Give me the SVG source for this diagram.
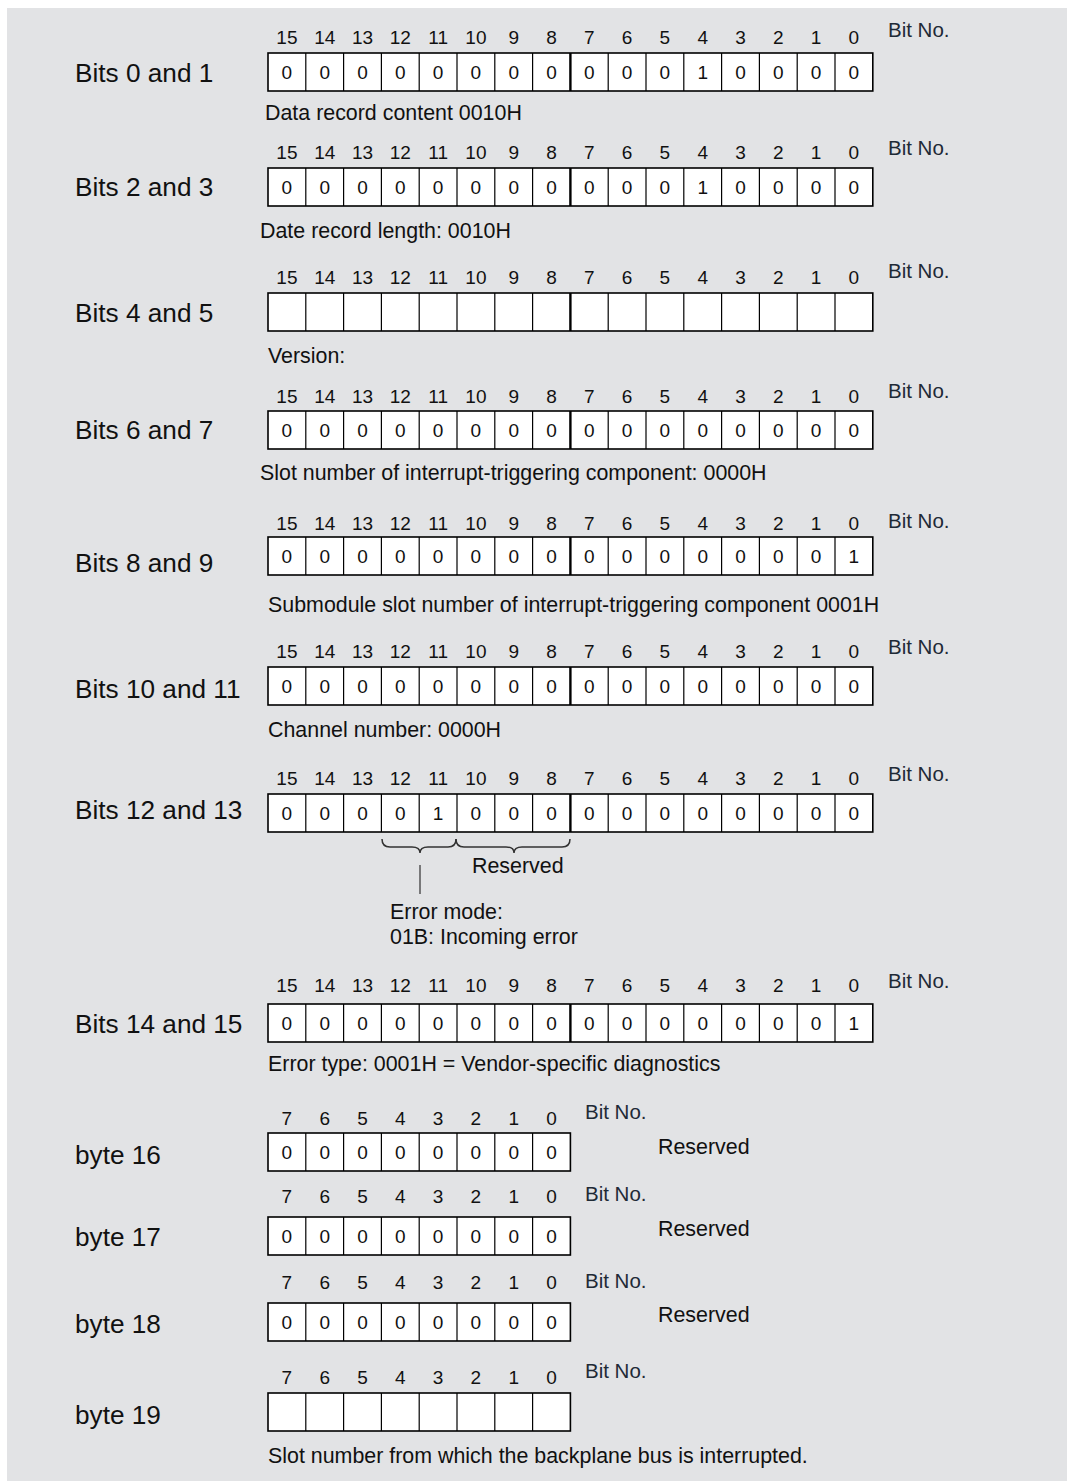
<svg xmlns="http://www.w3.org/2000/svg" xmlns:xlink="http://www.w3.org/1999/xlink" width="1067" height="1481" viewBox="0 0 1067 1481">
<style>
.lbl{font-family:"Liberation Sans",Arial,sans-serif;font-size:26.2px;fill:#111}
.num{font-family:"Liberation Sans",Arial,sans-serif;font-size:19px;fill:#111;text-anchor:middle}
.val{font-family:"Liberation Sans",Arial,sans-serif;font-size:19px;fill:#111;text-anchor:middle}
.bitno{font-family:"Liberation Sans",Arial,sans-serif;font-size:20.5px;fill:#1e2a36}
.cap{font-family:"Liberation Sans",Arial,sans-serif;font-size:21.4px;fill:#111}
.box{fill:#fff;stroke:#000;stroke-width:1.6}
.div{stroke:#000;stroke-width:1.2}
.mid{stroke:#000;stroke-width:2.4}
.brace{fill:none;stroke:#333;stroke-width:1.5}
</style>
<defs>
<g id="grid16">
<rect class="box" x="0" y="0" width="604.8" height="38"/>
<path class="div" d="M37.8,0V38M75.6,0V38M113.4,0V38M151.2,0V38M189,0V38M226.8,0V38M264.6,0V38M340.2,0V38M378,0V38M415.8,0V38M453.6,0V38M491.4,0V38M529.2,0V38M567,0V38"/>
<path class="mid" d="M302.4,0V38"/>
</g>
<g id="grid8">
<rect class="box" x="0" y="0" width="302.4" height="38"/>
<path class="div" d="M37.8,0V38M75.6,0V38M113.4,0V38M151.2,0V38M189,0V38M226.8,0V38M264.6,0V38"/>
</g>
<g id="nums16">
<text class="num" x="18.9">15</text><text class="num" x="56.7">14</text><text class="num" x="94.5">13</text><text class="num" x="132.3">12</text><text class="num" x="170.1">11</text><text class="num" x="207.9">10</text><text class="num" x="245.7">9</text><text class="num" x="283.5">8</text><text class="num" x="321.3">7</text><text class="num" x="359.1">6</text><text class="num" x="396.9">5</text><text class="num" x="434.7">4</text><text class="num" x="472.5">3</text><text class="num" x="510.3">2</text><text class="num" x="548.1">1</text><text class="num" x="585.9">0</text>
</g>
<g id="nums8">
<text class="num" x="18.9">7</text><text class="num" x="56.7">6</text><text class="num" x="94.5">5</text><text class="num" x="132.3">4</text><text class="num" x="170.1">3</text><text class="num" x="207.9">2</text><text class="num" x="245.7">1</text><text class="num" x="283.5">0</text>
</g>
<g id="zeros8">
<text class="val" x="18.9">0</text><text class="val" x="56.7">0</text><text class="val" x="94.5">0</text><text class="val" x="132.3">0</text><text class="val" x="170.1">0</text><text class="val" x="207.9">0</text><text class="val" x="245.7">0</text><text class="val" x="283.5">0</text>
</g>
<g id="zeros16">
<use xlink:href="#zeros8" href="#zeros8"/>
<use xlink:href="#zeros8" href="#zeros8" x="302.4"/>
</g>
<g id="v11">
<use xlink:href="#zeros8" href="#zeros8"/>
<text class="val" x="321.3">0</text><text class="val" x="359.1">0</text><text class="val" x="396.9">0</text><text class="val" x="434.7">1</text><text class="val" x="472.5">0</text><text class="val" x="510.3">0</text><text class="val" x="548.1">0</text><text class="val" x="585.9">0</text>
</g>
<g id="vlast1">
<use xlink:href="#zeros8" href="#zeros8"/>
<text class="val" x="321.3">0</text><text class="val" x="359.1">0</text><text class="val" x="396.9">0</text><text class="val" x="434.7">0</text><text class="val" x="472.5">0</text><text class="val" x="510.3">0</text><text class="val" x="548.1">0</text><text class="val" x="585.9">1</text>
</g>
</defs>
<rect x="0" y="0" width="1067" height="1481" fill="#fff"/>
<rect x="7" y="8" width="1060" height="1473" fill="#e2e3e5"/>

<g id="bits-0-1">
<text class="lbl" x="75" y="82">Bits 0 and 1</text>
<use href="#nums16" x="268" y="44"/>
<text class="bitno" x="888" y="37">Bit No.</text>
<use href="#grid16" x="268" y="53"/>
<use href="#v11" x="268" y="79"/>
<text class="cap" x="265" y="119.5">Data record content 0010H</text>
</g>

<g id="bits-2-3">
<text class="lbl" x="75" y="196">Bits 2 and 3</text>
<use href="#nums16" x="268" y="159"/>
<text class="bitno" x="888" y="155">Bit No.</text>
<use href="#grid16" x="268" y="168"/>
<use href="#v11" x="268" y="194"/>
<text class="cap" x="260" y="237.5">Date record length: 0010H</text>
</g>

<g id="bits-4-5">
<text class="lbl" x="75" y="322">Bits 4 and 5</text>
<use href="#nums16" x="268" y="284"/>
<text class="bitno" x="888" y="278">Bit No.</text>
<use href="#grid16" x="268" y="293"/>
<text class="cap" x="268" y="362.5">Version:</text>
</g>

<g id="bits-6-7">
<text class="lbl" x="75" y="439">Bits 6 and 7</text>
<use href="#nums16" x="268" y="403"/>
<text class="bitno" x="888" y="398">Bit No.</text>
<use href="#grid16" x="268" y="411"/>
<use href="#zeros16" x="268" y="437"/>
<text class="cap" x="260" y="479.5">Slot number of interrupt-triggering component: 0000H</text>
</g>

<g id="bits-8-9">
<text class="lbl" x="75" y="572">Bits 8 and 9</text>
<use href="#nums16" x="268" y="530"/>
<text class="bitno" x="888" y="528">Bit No.</text>
<use href="#grid16" x="268" y="537"/>
<use href="#vlast1" x="268" y="563"/>
<text class="cap" x="268" y="611.5">Submodule slot number of interrupt-triggering component 0001H</text>
</g>

<g id="bits-10-11">
<text class="lbl" x="75" y="698">Bits 10 and 11</text>
<use href="#nums16" x="268" y="658"/>
<text class="bitno" x="888" y="654">Bit No.</text>
<use href="#grid16" x="268" y="667"/>
<use href="#zeros16" x="268" y="693"/>
<text class="cap" x="268" y="736.5">Channel number: 0000H</text>
</g>

<g id="bits-12-13">
<text class="lbl" x="75" y="819">Bits 12 and 13</text>
<use href="#nums16" x="268" y="785"/>
<text class="bitno" x="888" y="781">Bit No.</text>
<use href="#grid16" x="268" y="794"/>
<use href="#zeros8" x="268" y="820"/>
<rect x="423" y="801" width="24" height="26" fill="#fff"/>
<text class="val" x="438.1" y="820">1</text>
<use href="#zeros8" x="570.4" y="820"/>
<path class="brace" d="M382,839Q382,847 390,847L412,847Q420,847 420,853Q420,847 428,847L448,847Q456,847 456,839"/>
<path class="brace" d="M456,839Q456,847 464,847L506,847Q514,847 514,853Q514,847 522,847L562,847Q570,847 570,839"/>
<text class="cap" x="472" y="873">Reserved</text>
<path d="M420,865V894" stroke="#555" stroke-width="1.5"/>
<text class="cap" x="390" y="919">Error mode:</text>
<text class="cap" x="390" y="944">01B: Incoming error</text>
</g>

<g id="bits-14-15">
<text class="lbl" x="75" y="1033">Bits 14 and 15</text>
<use href="#nums16" x="268" y="992"/>
<text class="bitno" x="888" y="988">Bit No.</text>
<use href="#grid16" x="268" y="1004"/>
<use href="#vlast1" x="268" y="1030"/>
<text class="cap" x="268" y="1070.5">Error type: 0001H = Vendor-specific diagnostics</text>
</g>

<g id="byte-16">
<text class="lbl" x="75" y="1164">byte 16</text>
<use href="#nums8" x="268" y="1125"/>
<text class="bitno" x="585" y="1119">Bit No.</text>
<use href="#grid8" x="268" y="1133"/>
<use href="#zeros8" x="268" y="1159"/>
<text class="cap" x="658" y="1153.5">Reserved</text>
</g>

<g id="byte-17">
<text class="lbl" x="75" y="1246">byte 17</text>
<use href="#nums8" x="268" y="1203"/>
<text class="bitno" x="585" y="1201">Bit No.</text>
<use href="#grid8" x="268" y="1217"/>
<use href="#zeros8" x="268" y="1243"/>
<text class="cap" x="658" y="1235.5">Reserved</text>
</g>

<g id="byte-18">
<text class="lbl" x="75" y="1333">byte 18</text>
<use href="#nums8" x="268" y="1289"/>
<text class="bitno" x="585" y="1288">Bit No.</text>
<use href="#grid8" x="268" y="1303"/>
<use href="#zeros8" x="268" y="1329"/>
<text class="cap" x="658" y="1321.5">Reserved</text>
</g>

<g id="byte-19">
<text class="lbl" x="75" y="1424">byte 19</text>
<use href="#nums8" x="268" y="1384"/>
<text class="bitno" x="585" y="1378">Bit No.</text>
<use href="#grid8" x="268" y="1393"/>
<text class="cap" x="268" y="1462.5">Slot number from which the backplane bus is interrupted.</text>
</g>
<g id="connectors"/>
</svg>
